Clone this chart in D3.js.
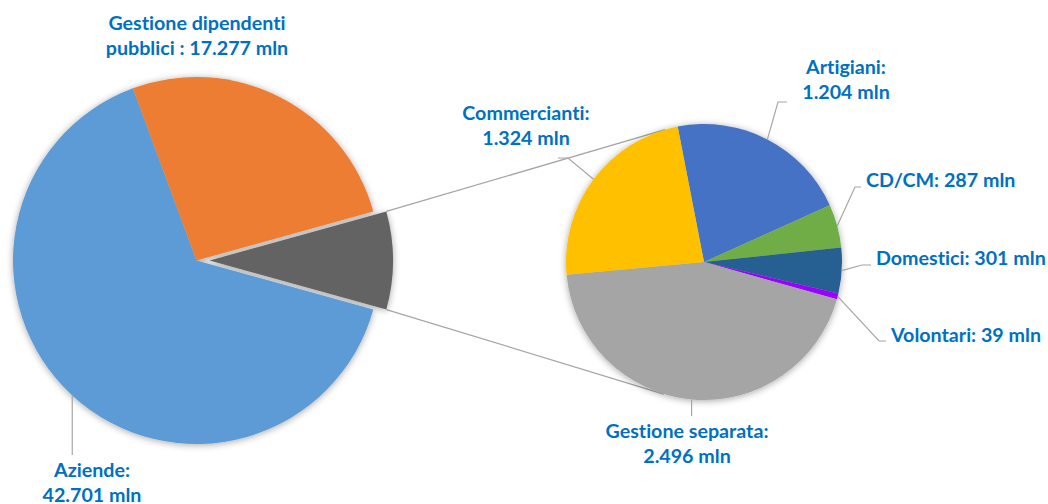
<!DOCTYPE html>
<html><head><meta charset="utf-8">
<script src="https://cdn.jsdelivr.net/npm/d3@7"></script>
<style>html,body{margin:0;padding:0;background:#fff;}svg{display:block;} text{font-variant-ligatures:none;font-feature-settings:"liga" 0,"clig" 0;}</style>
</head><body>
<svg id="chart" width="1048" height="504"></svg>
<script>
// ---- data ----
const mainCategories = ["Altro", "Aziende", "Gestione dipendenti pubblici"];
const mainValuesStatic = [null, 42.701, 17.277]; // "Altro" = sum of secondary
const subCategories = ["Artigiani", "CD/CM", "Domestici", "Volontari", "Gestione separata", "Commercianti"];
const subValues = [1.204, 0.287, 0.301, 0.039, 2.496, 1.324];
const subLabels = ["Artigiani:\n1.204 mln", "CD/CM: 287 mln", "Domestici: 301 mln", "Volontari: 39 mln", "Gestione separata:\n2.496 mln", "Commercianti:\n1.324 mln"];
const mainLabels = [null, "Aziende:\n42.701 mln", "Gestione dipendenti\npubblici : 17.277 mln"];

const mainColors = ["#636363", "#5B9BD5", "#ED7D31"];
const subColors = ["#4472C4", "#70AD47", "#255E91", "#9B00FF", "#A5A5A5", "#FFC000"];

const otherTotal = d3.sum(subValues);
const mainValues = mainValuesStatic.map(v => v === null ? otherTotal : v);

const svg = d3.select("#chart");
const defs = svg.append("defs");
const f = defs.append("filter").attr("id","sh").attr("x","-20%").attr("y","-20%").attr("width","140%").attr("height","140%");
f.append("feDropShadow").attr("dx",0).attr("dy",1).attr("stdDeviation",3.5).attr("flood-color","#000").attr("flood-opacity",0.35);

const M = {cx: 196.5, cy: 260.5, r: 183.5, explode: 13};
const S = {cx: 704, cy: 262, r: 138};
const deg = Math.PI/180;

const total = d3.sum(mainValues);
const otherAngle = otherTotal/total*2*Math.PI;
const mainPie = d3.pie().sort(null).value(d => d).startAngle(Math.PI/2 - otherAngle/2).endAngle(Math.PI/2 - otherAngle/2 + 2*Math.PI);
const mainArcs = mainPie(mainValues);
const arcM = d3.arc().innerRadius(0).outerRadius(M.r);

const subStart = -11*deg;
const subPie = d3.pie().sort(null).value(d => d).startAngle(subStart).endAngle(subStart + 2*Math.PI);
const subArcs = subPie(subValues);
const arcS = d3.arc().innerRadius(0).outerRadius(S.r);

const lineColor = "#A6A6A6";

// offset of an exploded slice
function offset(d, amt) {
  const a = (d.startAngle + d.endAngle)/2;
  return [amt*Math.sin(a), -amt*Math.cos(a)];
}
const oa = mainArcs[0];
const off = offset(oa, M.explode);

// connector lines (tangent from "other" slice corners to secondary pie)
function tangent(px, py, upper) {
  const dx = S.cx - px, dy = S.cy - py;
  const d = Math.hypot(dx, dy);
  const base = Math.atan2(dy, dx);
  const half = Math.asin(S.r / d);
  const a = upper ? base - half : base + half;
  const L = Math.sqrt(d*d - S.r*S.r);
  return [px + L*Math.cos(a), py + L*Math.sin(a)];
}
const c1 = [M.cx + off[0] + M.r*Math.sin(oa.startAngle), M.cy + off[1] - M.r*Math.cos(oa.startAngle)];
const c2 = [M.cx + off[0] + M.r*Math.sin(oa.endAngle), M.cy + off[1] - M.r*Math.cos(oa.endAngle)];
const t1 = tangent(c1[0], c1[1], true);
const t2 = tangent(c2[0], c2[1], false);
svg.append("line").attr("x1",c1[0]).attr("y1",c1[1]).attr("x2",t1[0]).attr("y2",t1[1]).attr("stroke",lineColor).attr("stroke-width",1.3);
svg.append("line").attr("x1",c2[0]).attr("y1",c2[1]).attr("x2",t2[0]).attr("y2",t2[1]).attr("stroke",lineColor).attr("stroke-width",1.3);

// main pie
const gM = svg.append("g").attr("transform",`translate(${M.cx},${M.cy})`).attr("filter","url(#sh)");
gM.selectAll("path").data(mainArcs).join("path")
  .attr("d",arcM)
  .attr("transform",(d,i)=> i===0 ? `translate(${off[0]},${off[1]})` : null)
  .attr("fill",(d,i)=>mainColors[i]);

// secondary pie
const gS = svg.append("g").attr("transform",`translate(${S.cx},${S.cy})`).attr("filter","url(#sh)");
gS.selectAll("path").data(subArcs).join("path").attr("d",arcS).attr("fill",(d,i)=>subColors[i]);

// label styling
const labelColor = "#0070C0";
const fontFamily = "Lato, 'Open Sans', sans-serif";
const probe = svg.append("text").attr("font-family",fontFamily).attr("font-weight","bold").attr("font-size",100).text("Gestione separata:");
const fs = Math.min(20, 100*163/probe.node().getComputedTextLength());
probe.remove();
const lh = 24.5;

function label(lines, x, y, anchor) {
  const t = svg.append("text").attr("font-family",fontFamily).attr("font-weight","bold").attr("font-size",fs).attr("fill",labelColor).attr("text-anchor",anchor);
  lines.split("\n").forEach((s,i)=>t.append("tspan").attr("x",x).attr("y",y+i*lh).text(s));
}
function leader(pts) {
  svg.append("path").attr("d",d3.line()(pts)).attr("fill","none").attr("stroke",lineColor).attr("stroke-width",1.2);
}
function arcPoint(c, a, r) { return [c.cx + r*Math.sin(a), c.cy - r*Math.cos(a)]; }

// main labels
const azMid = (mainArcs[1].startAngle + mainArcs[1].endAngle)/2;
const azP = arcPoint(M, azMid, M.r);
leader([azP, [azP[0], 455]]);
label(mainLabels[1], 92, 477, "middle");
label(mainLabels[2], 197, 30, "middle");

// secondary leaders + labels
const mids = subArcs.map(d => arcPoint(S, (d.startAngle+d.endAngle)/2, S.r));
leader([mids[0], [778,102], [787,102]]);
label(subLabels[0], 846, 74, "middle");
leader([mids[1], [855,187], [861,187]]);
label(subLabels[1], 866, 187, "start");
leader([mids[2], [862,265], [871,265]]);
label(subLabels[2], 876, 265, "start");
leader([mids[3], [879,341], [886,341]]);
label(subLabels[3], 891, 342, "start");
leader([mids[4], [mids[4][0], 416]]);
label(subLabels[4], 687, 438, "middle");
leader([mids[5], [568,158], [558,158]]);
label(subLabels[5], 526, 120, "middle");
</script>
</body></html>
